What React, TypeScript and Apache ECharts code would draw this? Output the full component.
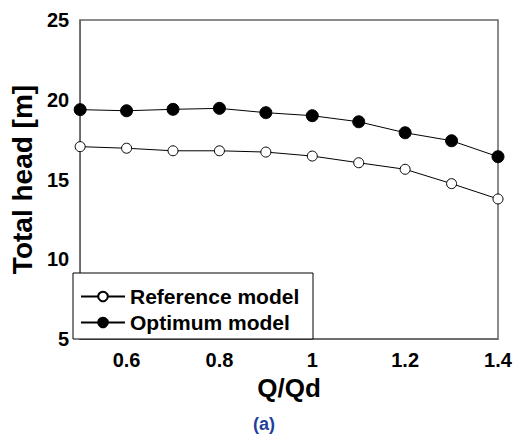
import React, { useEffect, useRef } from "react";
import * as echarts from "echarts";

const qRatio = [0.5, 0.6, 0.7, 0.8, 0.9, 1.0, 1.1, 1.2, 1.3, 1.4];
const referenceHead = [17.06, 16.96, 16.8, 16.8, 16.72, 16.47, 16.05, 15.64, 14.74, 13.78];
const optimumHead = [19.38, 19.31, 19.4, 19.46, 19.19, 19.0, 18.62, 17.93, 17.43, 16.43];
const seriesNames = ["Reference model", "Optimum model"];
const xTitle = "Q/Qd";
const yTitle = "Total head [m]";
const caption = "(a)";

const FONT = 'Arial, "Liberation Sans", Helvetica, sans-serif';

export default function App() {
  const ref = useRef<HTMLDivElement>(null);
  useEffect(() => {
    document.body.style.margin = "0";
    const chart = echarts.init(ref.current!, null, { renderer: "svg" });
    const toPairs = (ys: number[]) => qRatio.map((x, i) => [x, ys[i]]);
    chart.setOption({
      animation: false,
      backgroundColor: "#ffffff",
      grid: {
        left: 73,
        top: 20,
        right: 17,
        bottom: 97,
        show: true,
        borderColor: "#666666",
        borderWidth: 1.5,
      },
      xAxis: {
        type: "value",
        min: 0.5,
        max: 1.4,
        interval: 0.1,
        name: xTitle,
        nameLocation: "middle",
        nameGap: 33,
        nameTextStyle: { fontFamily: FONT, fontWeight: "bold", fontSize: 26, color: "#000" },
        axisLine: { lineStyle: { color: "#666666", width: 1.5 } },
        axisTick: { show: false },
        splitLine: { show: false },
        axisLabel: {
          margin: 11,
          fontFamily: FONT,
          fontWeight: "bold",
          fontSize: 20,
          color: "#000",
          formatter: (v: number) => {
            const k = Math.round(v * 10);
            return k % 2 === 0 ? String(k / 10) : "";
          },
        },
      },
      yAxis: {
        type: "value",
        min: 5,
        max: 25,
        interval: 5,
        name: yTitle,
        nameLocation: "middle",
        nameGap: 41,
        nameTextStyle: { fontFamily: FONT, fontWeight: "bold", fontSize: 28, color: "#000" },
        axisLine: { show: true, lineStyle: { color: "#666666", width: 1.5 } },
        axisTick: { show: false },
        splitLine: { show: false },
        axisLabel: {
          margin: 11,
          fontFamily: FONT,
          fontWeight: "bold",
          fontSize: 20,
          color: "#000",
        },
      },
      legend: {
        orient: "vertical",
        left: 80,
        top: 286,
        itemGap: 5,
        itemWidth: 44,
        itemHeight: 12,
        padding: 0,
        textStyle: { fontFamily: FONT, fontWeight: "bold", fontSize: 21, color: "#000", lineHeight: 21 },
        data: seriesNames,
        z: 10,
      },
      graphic: [
        {
          type: "rect",
          z: 5,
          shape: { x: 73, y: 273, width: 240, height: 66 },
          style: { fill: "#ffffff", stroke: "#000000", lineWidth: 1 },
        },
        {
          type: "text",
          x: 264,
          y: 424,
          style: {
            text: caption,
            fontFamily: FONT,
            fontWeight: "bold",
            fontSize: 18,
            fill: "#1f3f9a",
            align: "center",
            verticalAlign: "middle",
          },
        },
      ],
      series: [
        {
          name: seriesNames[0],
          type: "line",
          data: toPairs(referenceHead),
          symbol: "circle",
          symbolSize: 10,
          lineStyle: { color: "#000", width: 1 },
          itemStyle: { color: "#ffffff", borderColor: "#000", borderWidth: 1 },
          z: 3,
        },
        {
          name: seriesNames[1],
          type: "line",
          data: toPairs(optimumHead),
          symbol: "circle",
          symbolSize: 12,
          lineStyle: { color: "#000", width: 1 },
          itemStyle: { color: "#000000", borderColor: "#000", borderWidth: 1 },
          z: 3,
        },
      ],
    });
    return () => chart.dispose();
  }, []);
  return <div ref={ref} style={{ width: 515, height: 436 }} />;
}
